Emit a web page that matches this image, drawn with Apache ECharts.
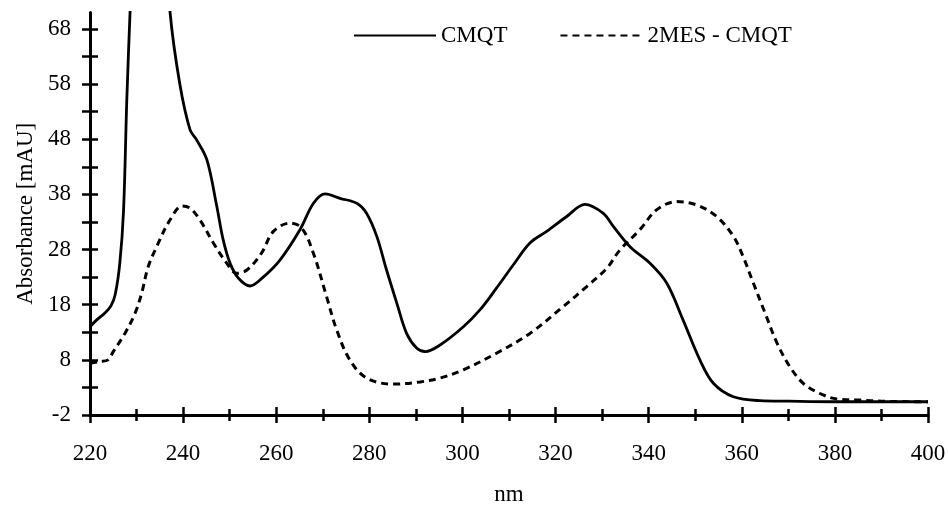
<!DOCTYPE html>
<html>
<head>
<meta charset="utf-8">
<script src="https://cdn.jsdelivr.net/npm/echarts@6/dist/echarts.min.js"></script>
<style>
  html, body { margin: 0; padding: 0; background: #fff; }
  #chart { width: 948px; height: 508px; }
</style>
</head>
<body>
<div id="chart"></div>
<script>
// wavelength (nm) and absorbance (mAU)
const cmqtNm = [220, 221.5, 223.2, 224.5, 225.4, 226.4, 227.2, 227.9, 228.6, 230, 232, 234, 235.8, 237.2, 239.3, 241.5, 242.9, 245.1, 247.2, 248.6, 250.1, 251.9, 254.4, 257.2, 260.8, 265.1, 268, 270.5, 273.7, 277.3, 279.4, 281.6, 283.7, 285.9, 288, 290.2, 292, 295.2, 300.2, 303.8, 307.3, 310.9, 314.5, 318.1, 322.4, 326.3, 330.2, 332.4, 336, 340.3, 343.9, 347.4, 351, 353.9, 358.2, 363.9, 370, 380, 390, 400];
const cmqtAbs = [14, 15.3, 16.5, 17.8, 19.8, 25.5, 35, 55, 71, 100, 125, 115, 90, 71, 58, 49.7, 47.9, 44.3, 36, 29.8, 25.5, 22.8, 21.4, 23, 26.1, 31.6, 36.4, 38.1, 37.3, 36.4, 34.6, 30.4, 24.3, 18.3, 12.8, 10.1, 9.5, 10.7, 14, 17.1, 21, 25.2, 29.2, 31.3, 34, 36.2, 34.6, 32.2, 28.5, 25.5, 21.9, 15.2, 8, 3.75, 1.3, 0.6, 0.5, 0.4, 0.4, 0.4];

const mesNm = [220, 222, 223.9, 225, 227.5, 229.7, 231.1, 232.5, 234.3, 237.2, 239.8, 241.5, 243.6, 246.5, 249.4, 251.5, 253.7, 256.8, 259.4, 263, 265.5, 268, 270.8, 273, 275.8, 279.4, 285.1, 290.9, 295.2, 300.2, 307.3, 314.5, 321.7, 326.7, 331, 333.8, 338.1, 341.7, 346, 350.3, 354.6, 358.2, 360.3, 362.5, 365, 367.6, 370.3, 373.2, 376.8, 380.4, 385.4, 390, 400];
const mesAbs = [7.4, 7.7, 8, 9.5, 12.8, 16.5, 20.1, 24.9, 28.5, 33.4, 35.9, 35.5, 33.4, 29.2, 25.5, 23.7, 24.3, 27.3, 31.3, 32.8, 31.9, 27.3, 19.5, 13.4, 8, 4.7, 3.6, 4, 4.7, 6.2, 9.2, 12.8, 17.7, 21.3, 24.6, 27.9, 31.6, 35.2, 36.7, 36.1, 34, 30.4, 26.7, 21.9, 16.5, 11, 6.8, 3.75, 1.9, 0.9, 0.7, 0.5, 0.4];

const yLabels = [-2, 8, 18, 28, 38, 48, 58, 68];
const yTicks = [-2, 3, 8, 13, 18, 23, 28, 33, 38, 43, 48, 53, 58, 63, 68];

const seriesNames = ['CMQT', '2MES - CMQT'];

const font = "'Liberation Serif', 'Times New Roman', serif";
const chart = echarts.init(document.getElementById('chart'));

const gridBox = {left: 90, right: 20, top: 12.5, bottom: 93, outerBoundsMode: 'none', containLabel: false};

function xAxisDef(gridIndex, inside) {
    return {
        type: 'value',
        gridIndex: gridIndex,
        min: 220,
        max: 400,
        interval: 20,
        axisLine: {show: !inside, onZero: false, lineStyle: {color: '#000', width: 3}},
        axisTick: {show: true, inside: inside, length: 8, lineStyle: {color: '#000', width: 2.5}},
        minorTick: {show: true, splitNumber: 2, length: 6, lineStyle: {color: '#000', width: 2.5}},
        axisLabel: {show: !inside, color: '#000', fontFamily: font, fontSize: 23, margin: 27},
        splitLine: {show: false},
        name: inside ? '' : 'nm',
        nameLocation: 'middle',
        nameGap: 68,
        nameTextStyle: {color: '#000', fontFamily: font, fontSize: 23}
    };
}

function yAxisDef(gridIndex, inside) {
    return {
        type: 'value',
        gridIndex: gridIndex,
        min: -2,
        max: 71,
        axisLine: {show: !inside, onZero: false, lineStyle: {color: '#000', width: 3}},
        axisTick: {show: true, inside: inside, length: 8, customValues: yTicks, lineStyle: {color: '#000', width: 2.5}},
        axisLabel: {show: !inside, customValues: yLabels, color: '#000', fontFamily: font, fontSize: 23, margin: 19},
        splitLine: {show: false},
        name: inside ? '' : 'Absorbance [mAU]',
        nameLocation: 'middle',
        nameGap: 50,
        nameTextStyle: {color: '#000', fontFamily: font, fontSize: 23}
    };
}

const option = {
    backgroundColor: '#fff',
    animation: false,
    grid: [
        Object.assign({}, gridBox),
        Object.assign({}, gridBox)
    ],
    legend: {
        left: 348,
        top: 19,
        itemWidth: 82,
        itemHeight: 20,
        itemGap: 52,
        itemStyle: {opacity: 0},
        textStyle: {color: '#000', fontFamily: font, fontSize: 23},
        data: seriesNames
    },
    xAxis: [xAxisDef(0, false), xAxisDef(1, true)],
    yAxis: [yAxisDef(0, false), yAxisDef(1, true)],
    series: [
        {
            name: seriesNames[0],
            type: 'line',
            xAxisIndex: 0,
            yAxisIndex: 0,
            data: cmqtNm.map((x, i) => [x, cmqtAbs[i]]),
            showSymbol: false,
            symbol: 'none',
            smooth: 0.35,
            clip: true,
            lineStyle: {color: '#000', width: 2.8, type: 'solid'},
            itemStyle: {color: '#000'}
        },
        {
            name: seriesNames[1],
            type: 'line',
            xAxisIndex: 0,
            yAxisIndex: 0,
            data: mesNm.map((x, i) => [x, mesAbs[i]]),
            showSymbol: false,
            symbol: 'none',
            smooth: 0.35,
            clip: true,
            lineStyle: {color: '#000', width: 3, type: [7, 5]},
            itemStyle: {color: '#000'}
        }
    ]
};

chart.setOption(option);
</script>
</body>
</html>
